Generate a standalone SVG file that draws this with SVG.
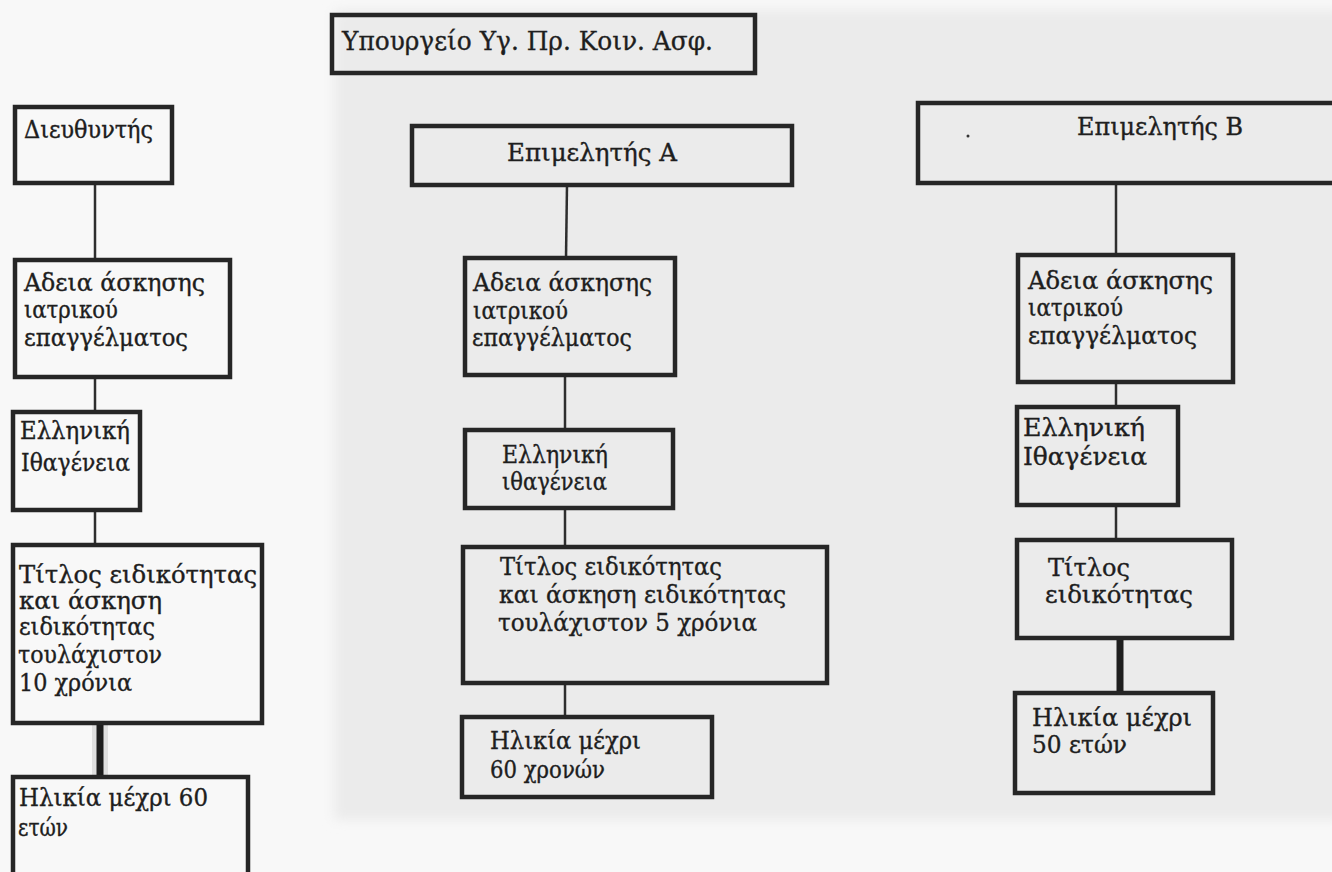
<svg xmlns="http://www.w3.org/2000/svg" width="1332" height="872" viewBox="0 0 1332 872">
<defs>
<filter id="soft" x="-5%" y="-5%" width="110%" height="110%"><feGaussianBlur stdDeviation="6"/></filter>
<style>
.box{fill:none;stroke:#262626;stroke-width:4.5}
.t{font-family:"DejaVu Serif","Liberation Serif",serif;font-size:23.5px;fill:#1e1e1e;stroke:#1e1e1e;stroke-width:0.35}
.big{font-size:26px}
.c{stroke:#2e2e2e;stroke-width:2.5;fill:none}
.thick{stroke:#1e1e1e;stroke-width:7;fill:none}
.halo{stroke:#d6d6d6;stroke-width:16;fill:none;opacity:0.7}
</style>
</defs>
<rect x="0" y="0" width="1332" height="872" fill="#f8f8f8"/>
<rect x="334" y="10" width="1010" height="810" fill="#ebebeb" filter="url(#soft)"/>

<g id="connectors">
<line class="c" x1="95" y1="183" x2="95" y2="260"/>
<line class="c" x1="95" y1="377" x2="95" y2="412"/>
<line class="c" x1="95" y1="510" x2="95" y2="545"/>
<line class="halo" x1="100" y1="725" x2="100" y2="777"/>
<line class="thick" x1="100" y1="723" x2="100" y2="777"/>
<line class="c" x1="567" y1="185" x2="566" y2="258"/>
<line class="c" x1="565" y1="375" x2="565" y2="430"/>
<line class="c" x1="565" y1="508" x2="565" y2="547"/>
<line class="c" x1="565" y1="683" x2="565" y2="717"/>
<line class="c" x1="1116" y1="183" x2="1116" y2="255"/>
<line class="c" x1="1116" y1="382" x2="1116" y2="407"/>
<line class="c" x1="1116" y1="505" x2="1116" y2="540"/>
<line class="thick" x1="1120" y1="638" x2="1120" y2="693"/>
</g>

<g id="ministry">
<rect class="box" x="332" y="15" width="423" height="58"/>
<text class="t big" x="342" y="50" textLength="371" lengthAdjust="spacingAndGlyphs">Υπουργείο  Υγ. Πρ. Κοιν. Ασφ.</text>
</g>

<g id="director">
<rect class="box" x="15" y="107" width="157" height="76"/>
<text class="t" x="24" y="138" textLength="129" lengthAdjust="spacingAndGlyphs">Διευθυντής</text>
</g>
<g id="left-license">
<rect class="box" x="15" y="260" width="215" height="117"/>
<text class="t" x="24" y="291" textLength="181" lengthAdjust="spacingAndGlyphs">Αδεια άσκησης</text>
<text class="t" x="24" y="318" textLength="94" lengthAdjust="spacingAndGlyphs">ιατρικού</text>
<text class="t" x="24" y="346" textLength="164" lengthAdjust="spacingAndGlyphs">επαγγέλματος</text>
</g>
<g id="left-citizenship">
<rect class="box" x="13" y="412" width="127" height="98"/>
<text class="t" x="20" y="439" textLength="110" lengthAdjust="spacingAndGlyphs">Ελληνική</text>
<text class="t" x="21" y="471" textLength="109" lengthAdjust="spacingAndGlyphs">Ιθαγένεια</text>
</g>
<g id="left-title">
<rect class="box" x="13" y="545" width="249" height="178"/>
<text class="t" x="19" y="583" textLength="238" lengthAdjust="spacingAndGlyphs">Τίτλος ειδικότητας</text>
<text class="t" x="19" y="609" textLength="143" lengthAdjust="spacingAndGlyphs">και  άσκηση</text>
<text class="t" x="19" y="635" textLength="136" lengthAdjust="spacingAndGlyphs">ειδικότητας</text>
<text class="t" x="18" y="663" textLength="144" lengthAdjust="spacingAndGlyphs">τουλάχιστον</text>
<text class="t" x="19" y="691" textLength="113" lengthAdjust="spacingAndGlyphs">10 χρόνια</text>
</g>
<g id="left-age">
<rect class="box" x="13" y="777" width="235" height="110"/>
<text class="t" x="19" y="806" textLength="189" lengthAdjust="spacingAndGlyphs">Ηλικία μέχρι 60</text>
<text class="t" x="18" y="836" textLength="50" lengthAdjust="spacingAndGlyphs">ετών</text>
</g>

<g id="curator-a">
<rect class="box" x="412" y="126" width="380" height="59"/>
<text class="t" x="507" y="161" font-size="25" textLength="170" lengthAdjust="spacingAndGlyphs">Επιμελητής  Α</text>
</g>
<g id="mid-license">
<rect class="box" x="465" y="258" width="210" height="117"/>
<text class="t" x="473" y="291" textLength="179" lengthAdjust="spacingAndGlyphs">Αδεια άσκησης</text>
<text class="t" x="473" y="319" textLength="95" lengthAdjust="spacingAndGlyphs">ιατρικού</text>
<text class="t" x="472" y="346" textLength="160" lengthAdjust="spacingAndGlyphs">επαγγέλματος</text>
</g>
<g id="mid-citizenship">
<rect class="box" x="465" y="430" width="208" height="78"/>
<text class="t" x="502" y="463" textLength="106" lengthAdjust="spacingAndGlyphs">Ελληνική</text>
<text class="t" x="502" y="490" textLength="105" lengthAdjust="spacingAndGlyphs">ιθαγένεια</text>
</g>
<g id="mid-title">
<rect class="box" x="463" y="547" width="364" height="136"/>
<text class="t" x="500" y="575" textLength="222" lengthAdjust="spacingAndGlyphs">Τίτλος ειδικότητας</text>
<text class="t" x="499" y="603" textLength="287" lengthAdjust="spacingAndGlyphs">και  άσκηση ειδικότητας</text>
<text class="t" x="498" y="631" textLength="259" lengthAdjust="spacingAndGlyphs">τουλάχιστον 5 χρόνια</text>
</g>
<g id="mid-age">
<rect class="box" x="462" y="717" width="250" height="80"/>
<text class="t" x="490" y="749" textLength="151" lengthAdjust="spacingAndGlyphs">Ηλικία μέχρι</text>
<text class="t" x="490" y="778" textLength="115" lengthAdjust="spacingAndGlyphs">60 χρονών</text>
</g>

<g id="curator-b">
<rect class="box" x="918" y="103" width="430" height="80"/>
<circle cx="968" cy="136" r="1.5" fill="#333"/>
<text class="t" x="1077" y="135" font-size="25" textLength="166" lengthAdjust="spacingAndGlyphs">Επιμελητής  Β</text>
</g>
<g id="right-license">
<rect class="box" x="1018" y="255" width="215" height="127"/>
<text class="t" x="1028" y="289" textLength="185" lengthAdjust="spacingAndGlyphs">Αδεια άσκησης</text>
<text class="t" x="1028" y="316" textLength="95" lengthAdjust="spacingAndGlyphs">ιατρικού</text>
<text class="t" x="1028" y="344" textLength="169" lengthAdjust="spacingAndGlyphs">επαγγέλματος</text>
</g>
<g id="right-citizenship">
<rect class="box" x="1017" y="407" width="161" height="98"/>
<text class="t" x="1023" y="436" textLength="122" lengthAdjust="spacingAndGlyphs">Ελληνική</text>
<text class="t" x="1023" y="465" textLength="124" lengthAdjust="spacingAndGlyphs">Ιθαγένεια</text>
</g>
<g id="right-title">
<rect class="box" x="1017" y="540" width="215" height="98"/>
<text class="t" x="1048" y="576" textLength="82" lengthAdjust="spacingAndGlyphs">Τίτλος</text>
<text class="t" x="1045" y="603" textLength="148" lengthAdjust="spacingAndGlyphs">ειδικότητας</text>
</g>
<g id="right-age">
<rect class="box" x="1015" y="693" width="198" height="100"/>
<text class="t" x="1032" y="726" textLength="160" lengthAdjust="spacingAndGlyphs">Ηλικία μέχρι</text>
<text class="t" x="1032" y="753" textLength="95" lengthAdjust="spacingAndGlyphs">50 ετών</text>
</g>
</svg>
